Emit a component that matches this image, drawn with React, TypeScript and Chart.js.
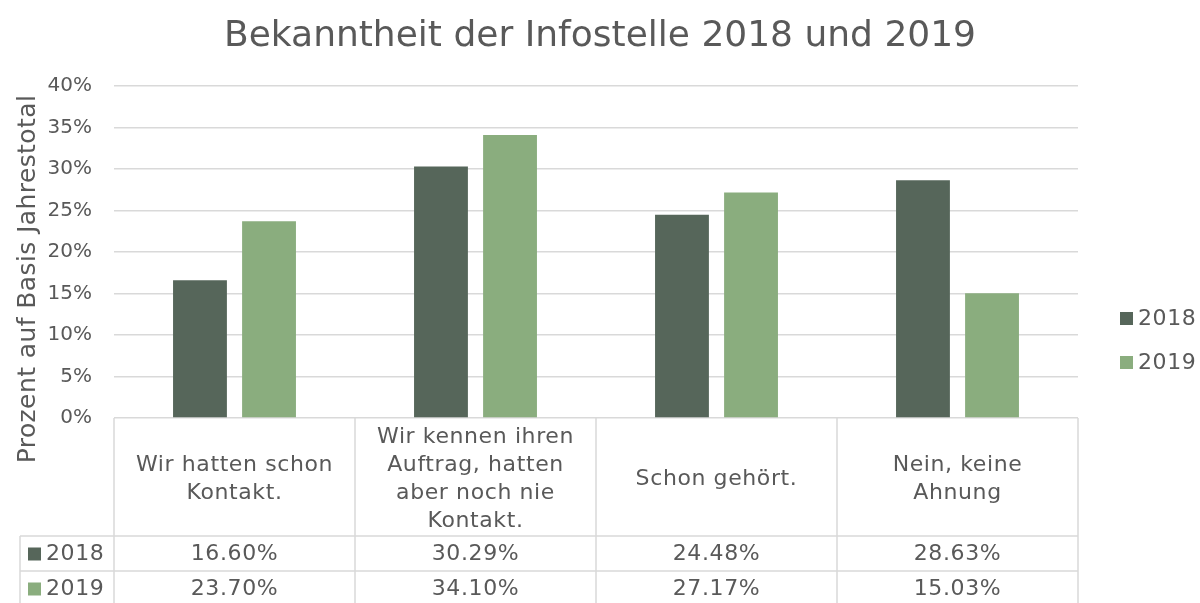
import React, { useEffect, useRef } from "react";
import { Chart, registerables } from "chart.js";

Chart.register(...registerables);

const TITLE = "Bekanntheit der Infostelle 2018 und 2019";
const Y_TITLE = "Prozent auf Basis Jahrestotal";
const categories: string[][] = [
  ["Wir hatten schon", "Kontakt."],
  ["Wir kennen ihren", "Auftrag, hatten", "aber noch nie", "Kontakt."],
  ["Schon gehört."],
  ["Nein, keine", "Ahnung"],
];
const seriesLabels = ["2018", "2019"];
const values2018 = [16.6, 30.29, 24.48, 28.63];
const values2019 = [23.7, 34.1, 27.17, 15.03];
const seriesColors = ["#56665A", "#8AAD7E"];
const Y_MIN = 0;
const Y_MAX = 40;
const Y_STEP = 5;

const FONT = "'DejaVu Sans', Verdana, sans-serif";
const TEXT = "#595959";
const GRID = "#D9D9D9";

const tablePlugin = {
  id: "excelTable",
  afterDraw(chart: any) {
    const { ctx, chartArea, scales } = chart;
    const xs = scales.x;
    const n = categories.length;
    const cw = (chartArea.right - chartArea.left) / n;
    const top = chartArea.bottom;
    const labelBottom = top + 118;
    const rowH = 35;
    const tableLeft = 20;
    const H = chart.height;
    const values = [values2018, values2019];

    ctx.save();
    ctx.strokeStyle = GRID;
    ctx.lineWidth = 1.5;
    for (let i = 0; i <= n; i++) {
      const x = Math.round(i < n ? xs.getPixelForValue(i) - cw / 2 : xs.getPixelForValue(n - 1) + cw / 2);
      ctx.beginPath();
      ctx.moveTo(x, top);
      ctx.lineTo(x, H);
      ctx.stroke();
    }
    ctx.beginPath();
    ctx.moveTo(tableLeft, labelBottom);
    ctx.lineTo(tableLeft, H);
    ctx.stroke();
    for (let r = 0; r <= 2; r++) {
      const y = labelBottom + r * rowH;
      ctx.beginPath();
      ctx.moveTo(tableLeft, y);
      ctx.lineTo(chartArea.right, y);
      ctx.stroke();
    }

    ctx.fillStyle = TEXT;
    ctx.font = `22px ${FONT}`;
    ctx.letterSpacing = "0.6px";
    ctx.textAlign = "center";
    ctx.textBaseline = "middle";
    const lh = 28;
    const midY = (top + labelBottom) / 2 + 2;
    categories.forEach((lines, i) => {
      const cx = xs.getPixelForValue(i);
      const y0 = midY - ((lines.length - 1) * lh) / 2;
      lines.forEach((ln, j) => ctx.fillText(ln, cx, y0 + j * lh));
    });

    seriesLabels.forEach((lab, r) => {
      const cy = labelBottom + r * rowH + rowH / 2 + 1;
      ctx.fillStyle = seriesColors[r];
      ctx.fillRect(28, cy - 7, 13, 13);
      ctx.fillStyle = TEXT;
      ctx.textAlign = "left";
      ctx.fillText(lab, 46, cy);
      ctx.textAlign = "center";
      values[r].forEach((v, i) => {
        ctx.fillText(v.toFixed(2) + "%", xs.getPixelForValue(i), cy);
      });
    });

    const legY = [318, 362];
    seriesLabels.forEach((lab, r) => {
      ctx.fillStyle = seriesColors[r];
      ctx.fillRect(1120, legY[r] - 6, 13, 13);
      ctx.fillStyle = TEXT;
      ctx.textAlign = "left";
      ctx.fillText(lab, 1138, legY[r] + 1);
    });

    ctx.font = `36px ${FONT}`;
    ctx.letterSpacing = "0px";
    ctx.textAlign = "center";
    ctx.textBaseline = "alphabetic";
    ctx.fillText(TITLE, 600, 46);

    ctx.font = `25px ${FONT}`;
    ctx.letterSpacing = "0.4px";
    ctx.translate(28, 279);
    ctx.rotate(-Math.PI / 2);
    ctx.textBaseline = "middle";
    ctx.fillText(Y_TITLE, 0, 0);
    ctx.letterSpacing = "0px";
    ctx.restore();
  },
};

export default function App() {
  const ref = useRef<HTMLCanvasElement | null>(null);
  useEffect(() => {
    if (!ref.current) return;
    const chart = new Chart(ref.current, {
      type: "bar",
      data: {
        labels: categories.map((c) => c.join(" ")),
        datasets: [
          { label: seriesLabels[0], data: values2018, backgroundColor: seriesColors[0] },
          { label: seriesLabels[1], data: values2019, backgroundColor: seriesColors[1] },
        ],
      },
      options: {
        responsive: false,
        animation: false,
        layout: { padding: { left: 0, right: 122, top: 86, bottom: 185 } },
        datasets: { bar: { categoryPercentage: 0.573, barPercentage: 0.78 } },
        plugins: { legend: { display: false }, tooltip: { enabled: false }, title: { display: false } },
        scales: {
          x: { display: false },
          y: {
            min: Y_MIN,
            max: Y_MAX,
            afterFit: (s: any) => {
              s.width = 114;
            },
            border: { display: false },
            grid: { color: GRID, lineWidth: 1.5, drawTicks: false },
            ticks: {
              stepSize: Y_STEP,
              padding: 22,
              color: TEXT,
              font: { family: FONT, size: 20 },
              callback: (v: any) => v + "%",
            },
          },
        },
      } as any,
      plugins: [tablePlugin],
    });
    return () => chart.destroy();
  }, []);
  return (
    <div style={{ position: "absolute", left: 0, top: 0, width: 1200, height: 603, background: "#fff" }}>
      <canvas ref={ref} width={1200} height={603} />
    </div>
  );
}
